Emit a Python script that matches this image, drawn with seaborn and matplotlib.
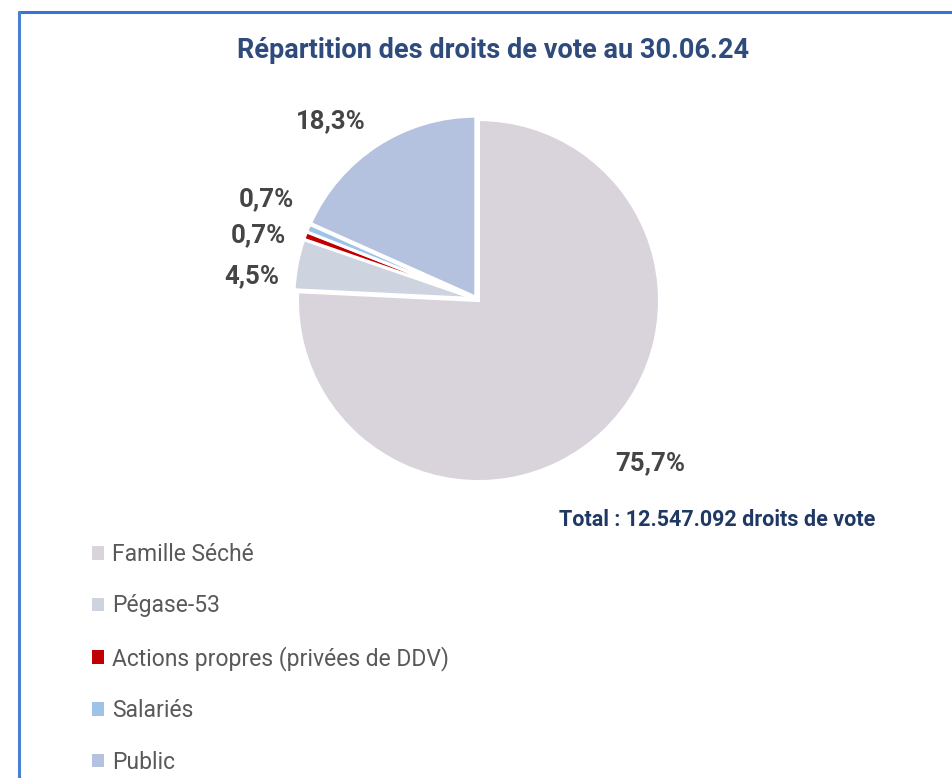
import numpy as np
import matplotlib
matplotlib.use("Agg")
import matplotlib.pyplot as plt
import seaborn as sns

sns.set_theme(style="white")
plt.rcParams["font.family"] = ["Roboto", "DejaVu Sans"]

# Voting-rights breakdown (percent)
categories = ["Famille Séché", "Pégase-53", "Actions propres (privées de DDV)", "Salariés", "Public"]
shares = [75.7, 4.5, 0.7, 0.7, 18.3]
colors = ["#D9D3DB", "#CDD3DF", "#C00000", "#9DC3E6", "#B4C1DF"]
title = "Répartition des droits de vote au 30.06.24"
total_note = "Total : 12.547.092 droits de vote"

# label layout: (radial distance, angle nudge in degrees)
label_layout = [(1.32, 3.0), (1.25, 5.0), (1.26, 4.0), (1.29, -2.5), (1.27, 6.5)]

W, H = 953, 778
fig = plt.figure(figsize=(W / 100, H / 100), dpi=100)
fig.patch.set_facecolor("white")

# axes covering the whole figure, 1 data unit = pie radius in pixels
R = 181.0
cx, cy = 477.0, 299.0
ax = fig.add_axes([0, 0, 1, 1])

wedges, _ = ax.pie(
    shares,
    colors=colors,
    startangle=90,
    counterclock=False,
    radius=1.0,
    explode=[0.012] * len(shares),
    wedgeprops=dict(edgecolor="white", linewidth=2.2),
    normalize=True,
)
ax.set_xlim(-cx / R, (W - cx) / R)
ax.set_ylim(-(H - cy) / R, cy / R)
ax.set_aspect("auto")
ax.axis("off")

# percentage labels placed around each wedge
for w, v, (dist, nudge) in zip(wedges, shares, label_layout):
    mid = np.deg2rad((w.theta1 + w.theta2) / 2 + nudge)
    x, y = dist * np.cos(mid), dist * np.sin(mid)
    txt = f"{v:.1f}".replace(".", ",") + "%"
    ax.text(x, y, txt, ha="center", va="center", fontsize=18.5,
            fontweight="bold", color="#454545")

# title and total note
fig.text(493 / W, 1 - 50 / H, title, ha="center", va="center",
         fontsize=19.5, fontweight="bold", color="#2F4B7C")
fig.text(717 / W, 1 - 520 / H, total_note, ha="center", va="center",
         fontsize=15.5, fontweight="bold", color="#1F3864")

# legend
leg = fig.legend(
    wedges, categories,
    loc="upper left", bbox_to_anchor=(92 / W, 1 - 543 / H),
    frameon=False, fontsize=16.5,
    handlelength=0.52, handleheight=0.52, handletextpad=0.35,
    labelspacing=1.24, borderaxespad=0, borderpad=0,
)
for t in leg.get_texts():
    t.set_color("#595959")
for h in leg.legend_handles:
    h.set_edgecolor("none")

# blue frame edges along the top and left
fig.add_artist(plt.Line2D([19 / W, 1], [1 - 12 / H, 1 - 12 / H], color="#3A73D0", lw=2.2))
fig.add_artist(plt.Line2D([19 / W, 19 / W], [0, 1 - 12 / H], color="#4A7FD6", lw=2.2))

fig.savefig("out.png", dpi=100, facecolor="white")
